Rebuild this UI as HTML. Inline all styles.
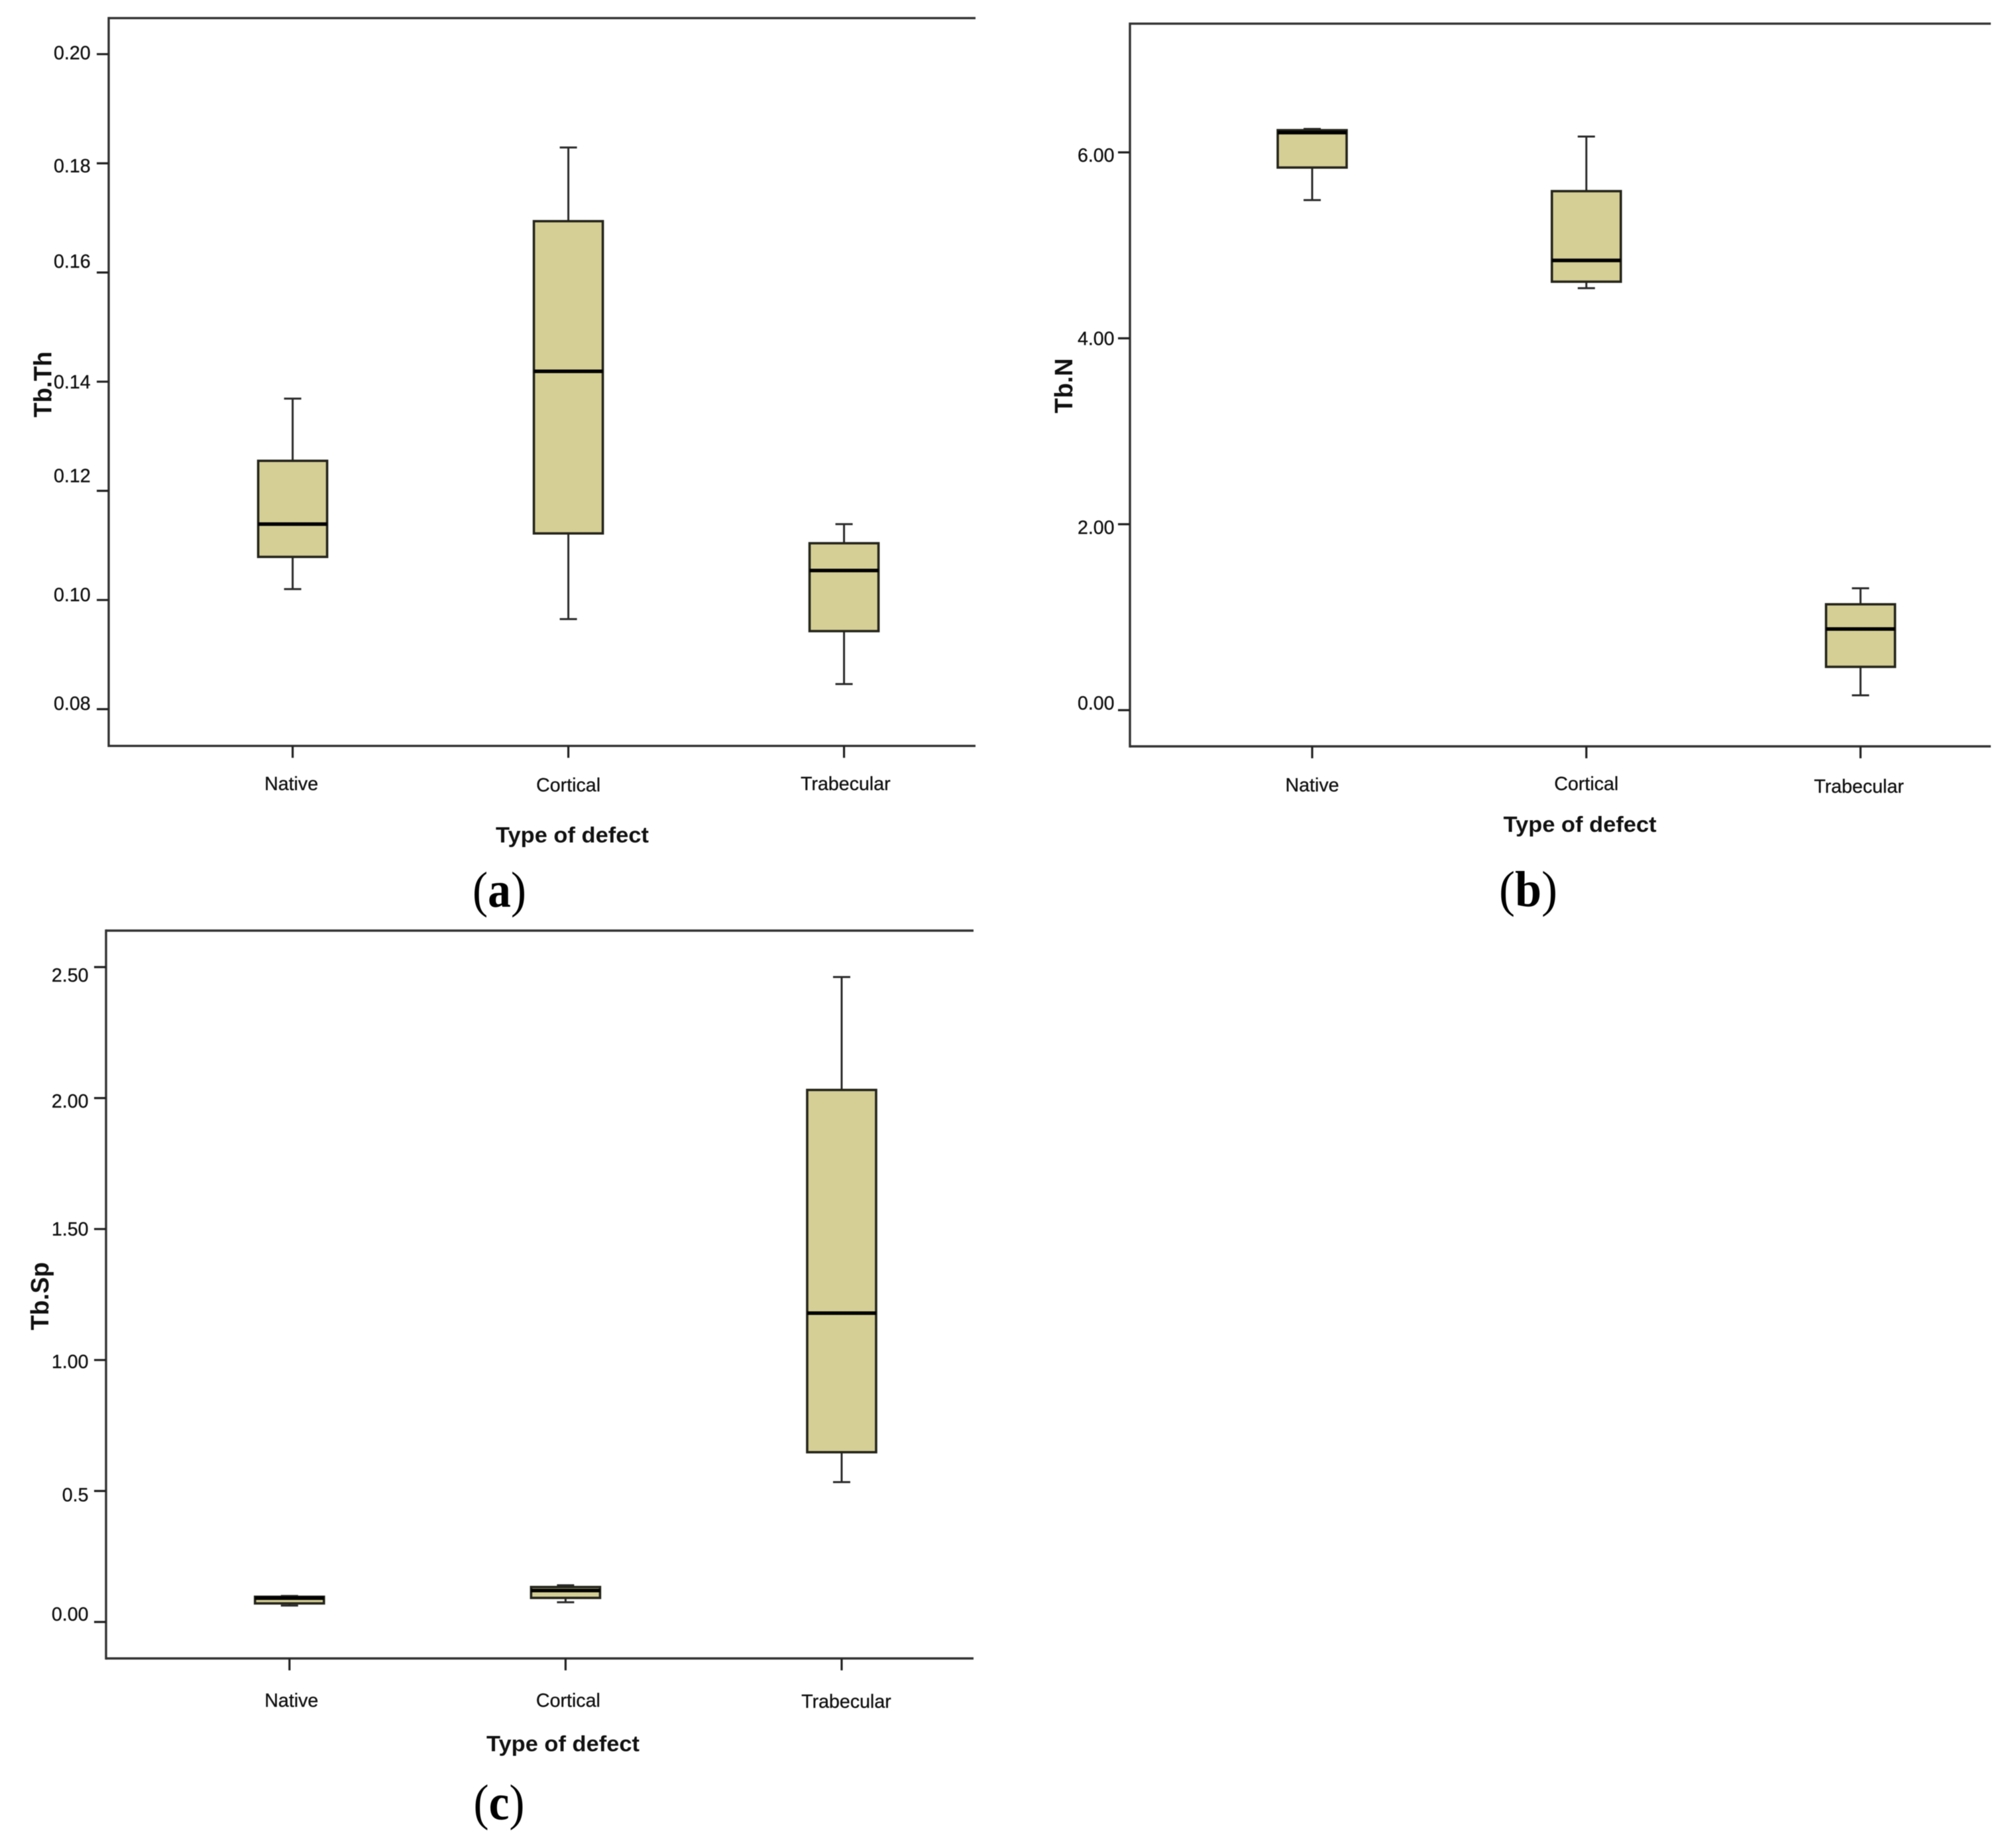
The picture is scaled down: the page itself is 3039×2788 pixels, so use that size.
<!DOCTYPE html>
<html lang="en">
<head>
<meta charset="utf-8">
<title>Tb.Th, Tb.N and Tb.Sp box plots by type of defect</title>
<style>
html,body{margin:0;padding:0;background:#fff;width:3039px;height:2788px;overflow:hidden}
svg{display:block;filter:blur(0.6px)}
text{font-family:"Liberation Sans",sans-serif;fill:#111}
.tick-text{stroke:#111;stroke-width:0.35px}
.letter{font-family:"Liberation Serif",serif;fill:#000}
.letter tspan.glyph{font-weight:bold}
</style>
</head>
<body>
<svg id="figure" xmlns="http://www.w3.org/2000/svg" width="3039" height="2788" viewBox="0 0 3039 2788"></svg>
<script>
// Shared categories
const categories = ["Native", "Cortical", "Trabecular"];

// Panel (a) Tb.Th data
const aTickValues = [0.20, 0.18, 0.16, 0.14, 0.12, 0.10, 0.08];
const aTickLabels = ["0.20", "0.18", "0.16", "0.14", "0.12", "0.10", "0.08"];
const aWhiskerHigh = [0.1369, 0.1829, 0.1139];
const aQ3 = [0.1255, 0.1694, 0.1104];
const aMedian = [0.1139, 0.1419, 0.1054];
const aQ1 = [0.1079, 0.1122, 0.0943];
const aWhiskerLow = [0.1020, 0.0965, 0.0846];

// Panel (b) Tb.N data
const bTickValues = [6, 4, 2, 0];
const bTickLabels = ["6.00", "4.00", "2.00", "0.00"];
const bWhiskerHigh = [6.252, 6.170, 1.311];
const bQ3 = [6.239, 5.583, 1.139];
const bMedian = [6.213, 4.838, 0.873];
const bQ1 = [5.837, 4.609, 0.466];
const bWhiskerLow = [5.487, 4.539, 0.160];

// Panel (c) Tb.Sp data
const cTickValues = [2.5, 2.0, 1.5, 1.0, 0.5, 0];
const cTickLabels = ["2.50", "2.00", "1.50", "1.00", "0.5", "0.00"];
const cWhiskerHigh = [0.0994, 0.140, 2.462];
const cQ3 = [0.0962, 0.1334, 2.031];
const cMedian = [0.0911, 0.1202, 1.179];
const cQ1 = [0.0709, 0.0919, 0.648];
const cWhiskerLow = [0.0625, 0.0752, 0.534];

const SVG_NS = "http://www.w3.org/2000/svg";
const root = document.getElementById("figure");

function mk(parent, tag, attrs, name, text) {
  const el = document.createElementNS(SVG_NS, tag);
  for (const k in attrs) el.setAttribute(k, attrs[k]);
  
  
  if (text !== undefined) el.textContent = text;
  parent.appendChild(el);
  return el;
}

function line(parent, x1, y1, x2, y2, w, color, name) {
  return mk(parent, "line", {x1: x1, y1: y1, x2: x2, y2: y2, stroke: color, "stroke-width": w}, name);
}

function drawPanel(p) {
  const g = mk(root, "g", {}, "panel-" + p.id);
  const yScale = v => p.yAnchor + (p.vAnchor - v) * p.pxPerUnit;
  const xScale = i => p.xFirst + i * p.xStep;
  const axis = "#333";

  // Axes: left, top, bottom
  line(g, p.left, p.top - 1.7, p.left, p.bottom + 1.7, 3.4, axis, "y-axis-line");
  line(g, p.left, p.top, p.right, p.top, 3.4, axis, "top-border");
  line(g, p.left, p.bottom, p.right, p.bottom, 3.4, axis, "x-axis-line");

  // Y ticks
  p.tickValues.forEach((v, i) => {
    const y = yScale(v);
    line(g, p.left - 18, y, p.left, y, 3.2, "#222", "y-tick");
    mk(g, "text", {x: p.labelRight, y: y + 10 + p.tickNudge[i], "text-anchor": "end", "font-size": 28.6, class: "tick-text"}, "y-tick-label", p.tickLabels[i]);
  });

  // Boxes
  categories.forEach((c, i) => {
    const cx = xScale(i);
    const hw = 52, cap = 13;
    const wh = yScale(p.whiskerHigh[i]), q3 = yScale(p.q3[i]), med = yScale(p.median[i]), q1 = yScale(p.q1[i]), wl = yScale(p.whiskerLow[i]);
    const box = mk(g, "g", {}, "box-" + c.toLowerCase());
    line(box, cx, wh, cx, q3, 3, "#2b2b2b", "whisker-upper");
    line(box, cx, q1, cx, wl, 3, "#2b2b2b", "whisker-lower");
    line(box, cx - cap, wh, cx + cap, wh, 3, "#2b2b2b", "whisker-cap-upper");
    line(box, cx - cap, wl, cx + cap, wl, 3, "#2b2b2b", "whisker-cap-lower");
    mk(box, "rect", {x: cx - hw, y: q3, width: hw * 2, height: q1 - q3, fill: "#d5cf95", stroke: "#25251c", "stroke-width": 3.6}, "iqr-box");
    line(box, cx - hw, med, cx + hw, med, 5.4, "#000", "median-line");

    // Category tick + label
    line(g, cx, p.bottom, cx, p.bottom + 18, 3.2, "#222", "x-tick");
    mk(g, "text", {x: cx + p.catNudgeX[i], y: p.catBaseline[i], "text-anchor": "middle", "font-size": 28.6, class: "tick-text"}, "x-tick-label", c);
  });

  // Titles
  mk(g, "text", {x: p.xTitleX, y: p.xTitleY, "text-anchor": "middle", "font-size": 33.5, "font-weight": "bold", textLength: 231, lengthAdjust: "spacingAndGlyphs"}, "x-axis-title", "Type of defect");
  mk(g, "text", {x: 0, y: 0, transform: "translate(" + p.yTitleX + "," + p.yTitleY + ") rotate(-90)", "text-anchor": "middle", "font-size": 38, "font-weight": "bold", textLength: p.yTitleLen, lengthAdjust: "spacingAndGlyphs"}, "y-axis-title", p.yTitle);

  // Panel letter: thin parentheses around a bold letter
  const lt = mk(g, "text", {x: p.letterX, y: p.letterY, "text-anchor": "middle", "font-size": 76, textLength: p.letterLen, lengthAdjust: "spacingAndGlyphs", class: "letter"}, "panel-label");
  const open = document.createElementNS(SVG_NS, "tspan");
  open.textContent = "(";
  lt.appendChild(open);
  const glyph = document.createElementNS(SVG_NS, "tspan");
  glyph.setAttribute("class", "glyph");
  glyph.textContent = p.letter;
  lt.appendChild(glyph);
  const close = document.createElementNS(SVG_NS, "tspan");
  close.textContent = ")";
  lt.appendChild(close);
}

drawPanel({
  id: "a", left: 164, right: 1472, top: 27.3, bottom: 1125.3,
  vAnchor: 0.20, yAnchor: 81.7, pxPerUnit: 8235,
  xFirst: 441.6, xStep: 416,
  tickValues: aTickValues, tickLabels: aTickLabels,
  tickNudge: [-2, 3.6, -17, 0, -23, -8, -9], labelRight: 136.7,
  whiskerHigh: aWhiskerHigh, q3: aQ3, median: aMedian, q1: aQ1, whiskerLow: aWhiskerLow,
  catNudgeX: [-2, 0, 2.3], catBaseline: [1192, 1194, 1192],
  xTitleX: 863.5, xTitleY: 1271,
  yTitle: "Tb.Th", yTitleX: 77.5, yTitleY: 580, yTitleLen: 99.5,
  letter: "a", letterX: 753.5, letterY: 1368, letterLen: 81
});

drawPanel({
  id: "b", left: 1705, right: 3004, top: 35.7, bottom: 1126,
  vAnchor: 0, yAnchor: 1071.4, pxPerUnit: 140.25,
  xFirst: 1980, xStep: 413.7,
  tickValues: bTickValues, tickLabels: bTickLabels,
  tickNudge: [4, 0, 4.5, -11], labelRight: 1681.6,
  whiskerHigh: bWhiskerHigh, q3: bQ3, median: bMedian, q1: bQ1, whiskerLow: bWhiskerLow,
  catNudgeX: [0, 0, -2.4], catBaseline: [1194, 1192, 1196],
  xTitleX: 2384, xTitleY: 1255,
  yTitle: "Tb.N", yTitleX: 1618, yTitleY: 582, yTitleLen: 83,
  letter: "b", letterX: 2306, letterY: 1367, letterLen: 88
});

drawPanel({
  id: "c", left: 160, right: 1469, top: 1404, bottom: 2502,
  vAnchor: 0, yAnchor: 2447, pxPerUnit: 395.2,
  xFirst: 436.8, xStep: 416.6,
  tickValues: cTickValues, tickLabels: cTickLabels,
  tickNudge: [12, 4.6, 0, 2, 5.6, -12], labelRight: 133.5,
  whiskerHigh: cWhiskerHigh, q3: cQ3, median: cMedian, q1: cQ1, whiskerLow: cWhiskerLow,
  catNudgeX: [3, 4, 7], catBaseline: [2575, 2575, 2576.5],
  xTitleX: 849.5, xTitleY: 2642,
  yTitle: "Tb.Sp", yTitleX: 73, yTitleY: 1955.5, yTitleLen: 102.7,
  letter: "c", letterX: 753, letterY: 2745, letterLen: 77
});
</script>
</body>
</html>
